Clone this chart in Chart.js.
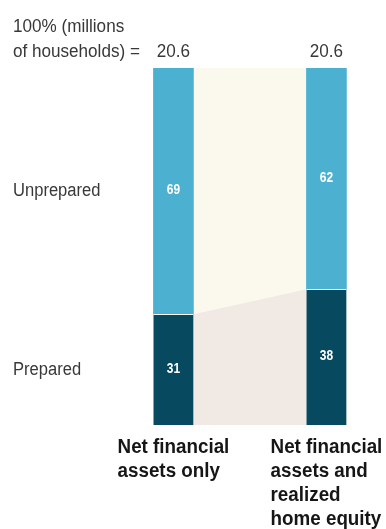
<!DOCTYPE html>
<html lang="en">
<head>
<meta charset="UTF-8">
<title>Households prepared for retirement</title>
<script src="https://cdn.jsdelivr.net/npm/chart.js"></script>
<style>
  body { margin: 0; background: #fff; }
  #wrap { width: 386px; height: 529px; position: relative; }
</style>
</head>
<body>
<div id="wrap"><canvas id="chart"></canvas></div>
<script>
// share of households, % of total
const categories = [
  ['Net financial', 'assets only'],
  ['Net financial', 'assets and', 'realized', 'home equity']
];
const totals = ['20.6', '20.6'];           // millions of households
const prepared = [31, 38];
const unprepared = [69, 62];
const seriesNames = ['Prepared', 'Unprepared'];
const totalsCaption = ['100% (millions', 'of households) ='];

const FONT = '"Liberation Sans", Arial, sans-serif';
const LIGHT = '#4cb1d1';
const DARK = '#07495f';

// squeezed text, the house style is a condensed face
function say(ctx, s, x, y, align, sx) {
  ctx.save();
  ctx.translate(x, y);
  ctx.scale(sx, 1);
  ctx.textAlign = align;
  ctx.fillText(s, 0, 0);
  ctx.restore();
}

// cream / beige bands that join the two columns
const bands = {
  id: 'bands',
  beforeDatasetsDraw(chart) {
    const ctx = chart.ctx;
    const y = chart.scales.y;
    const low = chart.getDatasetMeta(0).data;
    if (low.length < 2) return;
    const r1 = low[0].x + low[0].width / 2;
    const l2 = low[1].x - low[1].width / 2;
    const top = y.getPixelForValue(100);
    const base = y.getPixelForValue(0);
    ctx.save();
    ctx.fillStyle = '#fbf8ee';
    ctx.beginPath();
    ctx.moveTo(r1, top); ctx.lineTo(l2, top);
    ctx.lineTo(l2, low[1].y); ctx.lineTo(r1, low[0].y);
    ctx.closePath(); ctx.fill();
    ctx.fillStyle = '#f1e9e3';
    ctx.beginPath();
    ctx.moveTo(r1, low[0].y); ctx.lineTo(l2, low[1].y);
    ctx.lineTo(l2, base); ctx.lineTo(r1, base);
    ctx.closePath(); ctx.fill();
    ctx.restore();
  }
};

// all text: segment values, row names, totals, column names
const labels = {
  id: 'labels',
  afterDatasetsDraw(chart) {
    const ctx = chart.ctx;
    const y = chart.scales.y;
    ctx.save();

    ctx.fillStyle = '#fff';
    ctx.font = 'bold 15px ' + FONT;
    ctx.textBaseline = 'middle';
    chart.data.datasets.forEach((ds, i) => {
      chart.getDatasetMeta(i).data.forEach((bar, j) => {
        say(ctx, String(ds.data[j].y), bar.x, (bar.y + bar.base) / 2 - 1, 'center', 0.8);
      });
    });

    ctx.fillStyle = '#383838';
    ctx.font = '18px ' + FONT;
    const first = [chart.getDatasetMeta(0).data[0], chart.getDatasetMeta(1).data[0]];
    seriesNames.forEach((name, i) => {
      say(ctx, name, 13, (first[i].y + first[i].base) / 2, 'left', 0.92);
    });

    ctx.textBaseline = 'alphabetic';
    say(ctx, totalsCaption[0], 13, 32, 'left', 0.95);
    say(ctx, totalsCaption[1], 13, 57, 'left', 0.95);
    chart.getDatasetMeta(0).data.forEach((bar, j) => {
      say(ctx, totals[j], bar.x, 57, 'center', 0.95);
    });

    ctx.fillStyle = '#161616';
    ctx.font = 'bold 20px ' + FONT;
    const base = y.getPixelForValue(0);
    const sx = 0.94;
    chart.getDatasetMeta(0).data.forEach((bar, j) => {
      const lines = categories[j];
      const w = Math.max(...lines.map(s => ctx.measureText(s).width)) * sx;
      lines.forEach((s, k) => say(ctx, s, bar.x - w / 2, base + 27.5 + k * 24, 'left', sx));
    });
    ctx.restore();
  }
};

new Chart(document.getElementById('chart'), {
  type: 'bar',
  data: {
    datasets: [
      {
        label: seriesNames[0],
        data: prepared.map((v, i) => ({ x: i, y: v })),
        backgroundColor: DARK,
        borderColor: '#ffffff',
        borderWidth: { top: 1, left: 0, right: 0, bottom: 0 },
        borderSkipped: false
      },
      {
        label: seriesNames[1],
        data: unprepared.map((v, i) => ({ x: i, y: v })),
        backgroundColor: LIGHT,
        borderWidth: 0
      }
    ]
  },
  options: {
    responsive: true,
    maintainAspectRatio: false,
    animation: false,
    barThickness: 40,
    layout: { padding: { left: 100, right: 6, top: 68, bottom: 104 } },
    scales: {
      x: { type: 'linear', offset: false, stacked: true, min: -0.48, max: 1.35, display: false },
      y: { stacked: true, min: 0, max: 100, display: false }
    },
    plugins: {
      legend: { display: false },
      tooltip: { enabled: false }
    }
  },
  plugins: [bands, labels]
});
</script>
</body>
</html>
